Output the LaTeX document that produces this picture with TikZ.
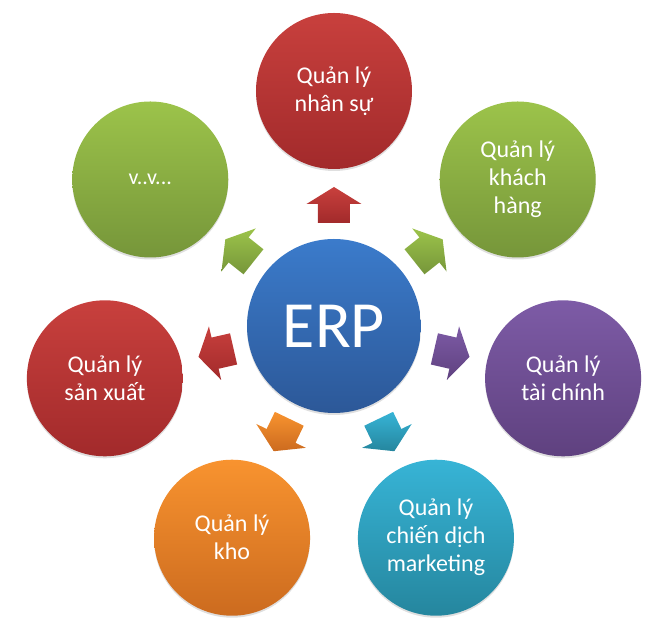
\documentclass[tikz,border=0pt]{standalone}
\usepackage{fontspec}
\setmainfont{Carlito}
\usepackage{tikz}
\usetikzlibrary{calc,shadows}

\definecolor{RedTop}{HTML}{C8403D}    \definecolor{RedBot}{HTML}{A22A2B}
\definecolor{GreenTop}{HTML}{9CC34A}  \definecolor{GreenBot}{HTML}{76963A}
\definecolor{PurpleTop}{HTML}{7D5BA6} \definecolor{PurpleBot}{HTML}{5F417F}
\definecolor{CyanTop}{HTML}{37B4D6}   \definecolor{CyanBot}{HTML}{25869E}
\definecolor{OrangeTop}{HTML}{F8932F} \definecolor{OrangeBot}{HTML}{CC6B1F}
\definecolor{BlueTop}{HTML}{3B7BCB}   \definecolor{BlueBot}{HTML}{2C5898}

% block arrow from node #1 towards node #2, colour family #3
\newcommand{\BlockArrow}[3]{%
	\shade [top color=#3Top, bottom color=#3Bot]
		($(#1.center)!103pt!(#2.center)!16pt!90:(#2.center)$)
		-- ($(#1.center)!122pt!(#2.center)!16pt!90:(#2.center)$)
		-- ($(#1.center)!122pt!(#2.center)!27.5pt!90:(#2.center)$)
		-- ($(#1.center)!139pt!(#2.center)$)
		-- ($(#1.center)!122pt!(#2.center)!27.5pt!-90:(#2.center)$)
		-- ($(#1.center)!122pt!(#2.center)!16pt!-90:(#2.center)$)
		-- ($(#1.center)!103pt!(#2.center)!16pt!-90:(#2.center)$)
		-- cycle;}

\begin{document}
\begin{tikzpicture}
		\tikzstyle{Unit}	= [circle, minimum size=156pt, inner sep=0pt, text=white, align=center,
							   font=\fontsize{24}{28}\selectfont,
							   drop shadow={shadow xshift=0pt, shadow yshift=-2pt, opacity=0.25}]
		\tikzstyle{Core}	= [Unit, minimum size=174pt, font=\fontsize{66}{70}\selectfont]
		\tikzstyle{Red}		= [top color=RedTop, bottom color=RedBot]
		\tikzstyle{Green}	= [top color=GreenTop, bottom color=GreenBot]
		\tikzstyle{Purple}	= [top color=PurpleTop, bottom color=PurpleBot]
		\tikzstyle{Cyan}	= [top color=CyanTop, bottom color=CyanBot]
		\tikzstyle{Orange}	= [top color=OrangeTop, bottom color=OrangeBot]
		\tikzstyle{Blue}	= [top color=BlueTop, bottom color=BlueBot]

		\useasboundingbox (-334pt,-310pt) rectangle (336pt,326pt);

		\node (erp) at (0,0) [Core, Blue] {ERP};
		\node (hr)  at (90:235pt)     [Unit, Red]    {Quản lý\\nhân sự};
		\node (crm) at (38.57:235pt)  [Unit, Green]  {Quản lý\\khách\\hàng};
		\node (fin) at (-12.86:235pt) [Unit, Purple] {Quản lý\\tài chính};
		\node (mkt) at (-64.29:235pt) [Unit, Cyan]   {Quản lý\\chiến dịch\\marketing};
		\node (inv) at (-115.71:235pt)[Unit, Orange] {Quản lý\\kho};
		\node (prd) at (-167.14:235pt)[Unit, Red]    {Quản lý\\sản xuất};
		\node (etc) at (141.43:235pt) [Unit, Green, font=\fontsize{22}{26}\selectfont] {v..v...};

		\BlockArrow{erp}{hr}{Red}
		\BlockArrow{erp}{crm}{Green}
		\BlockArrow{erp}{fin}{Purple}
		\BlockArrow{erp}{mkt}{Cyan}
		\BlockArrow{erp}{inv}{Orange}
		\BlockArrow{erp}{prd}{Red}
		\BlockArrow{erp}{etc}{Green}
	\end{tikzpicture}
\end{document}
